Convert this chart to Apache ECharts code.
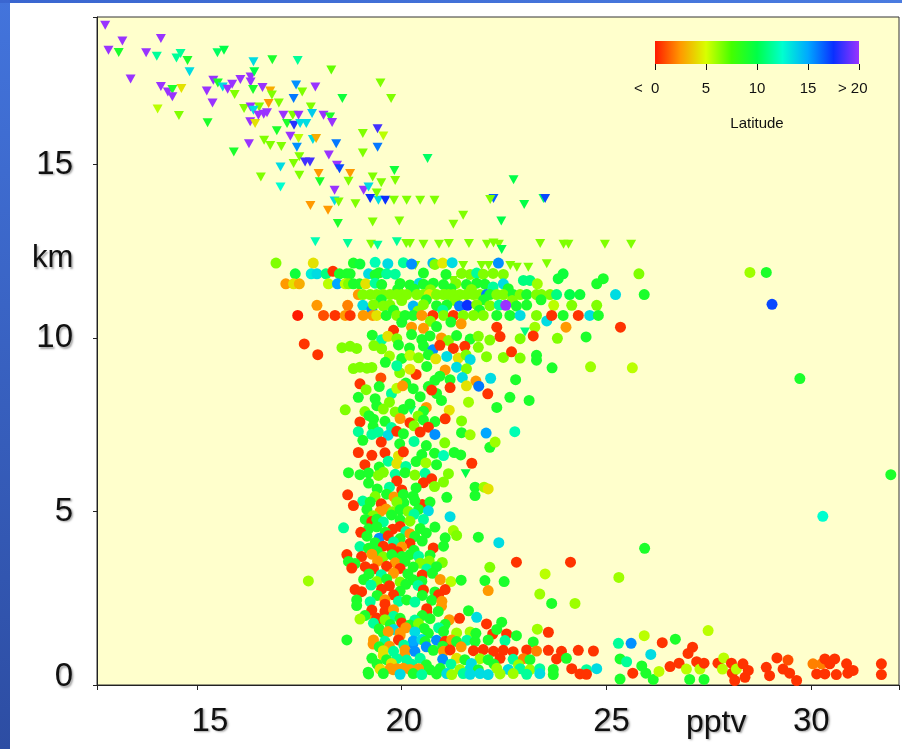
<!DOCTYPE html>
<html><head><meta charset="utf-8">
<script src="https://cdn.jsdelivr.net/npm/echarts@6/dist/echarts.min.js"></script>
<style>html,body{margin:0;padding:0;background:#fff;}#c{width:902px;height:749px;}</style>
</head><body><div id="c"></div>
<script>
// ---- data: [pptv, km, latitude] ----
const trianglePoints = [
[12.76,19.01,20],[12.84,18.29,20],[13.18,18.56,20],[13.09,18.23,9],[14.12,18.63,20],[13.76,18.22,20],[14.02,18.12,11.5],[14.5,18.07,11.5],[14.6,18.2,11.5],[14.77,18.0,9],[15.5,18.22,10.5],[15.66,18.29,10],[14.82,17.67,13.5],[13.38,17.46,20],[14.12,17.25,20],[14.29,17.09,20],[14.4,17.16,9],[14.4,16.95,20],[14.62,17.19,4.3],[14.04,16.6,5.5],[14.56,16.41,6.5],[15.26,16.2,9],[15.38,16.77,20],[15.24,17.12,20],[15.4,17.43,20],[15.51,17.35,9],[15.63,17.23,13.5],[15.75,17.17,20],[15.86,17.31,20],[15.92,17.02,6.5],[16.06,17.45,20],[16.31,17.52,20],[16.31,17.38,20],[16.38,17.96,13.5],[16.4,17.67,10],[16.37,17.16,9],[16.6,17.22,20],[16.84,18.02,9],[17.46,18.0,11.5],[18.28,17.72,7],[16.79,17.12,3],[16.83,17.0,6.5],[17.0,16.77,6.5],[16.75,16.76,2.5],[16.15,16.61,6.5],[16.31,16.66,20],[16.52,16.66,6.5],[16.38,16.56,13.5],[16.3,16.23,20],[16.42,16.18,4.3],[16.5,16.42,20],[16.63,16.45,20],[16.71,16.49,20],[16.27,15.6,20],[15.9,15.36,9],[16.64,15.7,6.5],[16.79,15.55,6.5],[16.95,15.97,9],[17.06,15.52,6.5],[16.56,14.64,6.5],[17.04,14.93,13.5],[17.04,14.35,12.5],[17.11,16.42,20],[17.2,16.18,9],[17.34,16.42,6.5],[17.37,16.13,18],[17.48,16.42,20],[17.52,16.18,13.5],[17.67,16.18,13.5],[17.36,16.9,16],[17.42,17.29,15.5],[17.57,17.09,6.5],[17.89,17.23,20],[17.78,16.66,6.5],[17.81,16.47,14],[18.09,16.42,20],[18.25,16.37,9],[18.3,16.21,20],[18.55,16.9,9.5],[17.28,15.81,20],[17.48,15.75,5.5],[17.44,15.5,15.5],[17.5,15.22,6.5],[17.36,15.03,6.5],[17.5,14.69,6.5],[17.64,15.07,18.5],[17.76,15.07,18.5],[17.83,15.72,13.5],[17.91,15.75,3],[18.22,15.27,20],[18.42,14.98,20],[18.48,14.88,17],[18.4,15.6,16],[17.97,14.74,2.5],[18.0,14.5,9],[18.36,14.26,20],[18.74,14.74,2.5],[18.7,14.52,6.5],[18.36,13.95,13.5],[18.46,13.92,6.5],[17.77,13.82,2.5],[18.2,13.68,2.5],[18.44,13.3,9],[18.87,13.87,6.5],[19.05,15.89,6.5],[19.05,15.33,6.5],[19.41,16.03,18.5],[19.55,15.82,5.5],[19.41,15.5,16],[19.48,17.35,6.5],[19.74,16.9,6.5],[19.82,14.83,9.5],[19.84,14.54,6.5],[19.29,14.64,6.5],[19.5,14.47,6.5],[19.07,14.26,20],[19.19,14.35,13.5],[19.23,14.02,17.5],[19.43,13.97,13.5],[19.6,13.97,17.5],[19.39,14.18,6.5],[19.81,13.97,6.5],[20.12,13.97,6.5],[19.29,13.34,6.5],[19.94,13.37,6.5],[20.63,15.17,10.5],[22.73,14.56,10],[22.24,14.02,16.5],[22.16,13.99,6.5],[22.99,13.85,10],[23.46,14.02,10.5],[23.5,14.02,17],[20.45,13.97,6.5],[20.8,13.97,6.5],[21.5,13.54,6.5],[21.26,13.28,6.5],[22.43,13.37,10],[17.89,12.77,12],[18.68,12.72,11.5],[19.25,12.7,6.5],[19.41,12.67,11.5],[19.88,12.77,11.5],[20.11,12.72,6.5],[20.2,12.72,6.5],[20.53,12.7,6.5],[20.91,12.7,6.5],[21.15,12.72,6.5],[21.64,12.72,6.5],[22.08,12.7,6.5],[22.24,12.74,6.5],[22.37,12.7,6.5],[22.44,12.55,10],[23.38,12.72,6.5],[23.95,12.7,6.5],[24.07,12.7,6.5],[24.96,12.7,6.5],[25.6,12.7,6.5],[21.5,12.09,6.5],[21.95,12.09,6.5],[22.12,12.09,6.5],[22.65,12.09,6.5],[22.81,12.04,6.5],[23.09,12.04,6.5],[23.54,12.14,6.5],[20.33,12.09,6.5],[21.25,11.66,6.5],[23.01,10.17,11],[20.23,7.91,11],[21.56,6.09,10]
];
const circlesUpper = [
[16.93,12.16,6.5],[17.84,12.16,4.3],[18.82,12.16,9],[18.98,12.13,9.5],[19.35,12.18,12],[19.66,12.14,13.5],[20.04,12.17,11.5],[20.24,12.13,15.5],[20.76,12.16,14.5],[20.81,12.12,6.5],[21.0,12.16,4.5],[21.23,12.17,13.5],[22.36,12.16,15.5],
[17.40,11.85,9.5],[17.79,11.85,13],[17.93,11.85,13.5],[18.15,11.85,11],[18.32,11.92,0.5],[18.48,11.85,9],[18.66,11.85,9],[18.74,11.85,9],[19.19,11.85,13.5],[19.35,11.82,9],[19.45,11.88,9],[19.63,11.85,11.5],[19.84,11.84,11.5],[20.53,11.87,9],[21.08,11.83,9],[21.46,11.86,6.5],[21.67,11.83,6.5],[21.83,11.87,11.5],[21.99,11.84,6.5],[22.23,11.86,6.5],[22.48,11.83,6.5],[23.94,11.85,9.5],[24.92,11.71,9],[25.79,11.85,6.5],
[17.17,11.56,2.5],[17.36,11.56,4.3],[17.50,11.56,3],[18.21,11.56,5.5],[18.43,11.56,15],[18.62,11.56,5.5],[18.70,11.56,6.5],[18.82,11.56,9],[18.97,11.56,9],[19.12,11.56,4.3],[19.35,11.58,11.5],[19.51,11.54,9],[19.96,11.57,9],[20.20,11.53,9],[20.43,11.58,13.5],[20.53,11.55,9],[20.77,11.58,9],[21.02,11.54,9],[21.32,11.57,6.5],[21.58,11.54,9],[21.83,11.58,9],[22.03,11.55,9],[22.23,11.47,11.5],[22.48,11.56,13.5],[22.97,11.66,11],[23.13,11.66,11],[23.31,11.56,6],[23.82,11.71,9.5],[24.76,11.56,9],
[19.9,11.4,9],[20.3,11.41,9],[20.7,11.39,6.5],[21.2,11.42,9],[21.7,11.4,6.5],[22.6,11.42,9],
[18.94,11.25,2.5],[19.05,11.25,6.5],[19.23,11.25,6.5],[19.39,11.25,6.5],[19.55,11.25,6.5],[19.71,11.25,6.5],[19.88,11.25,6.5],[20.0,11.25,6.5],[20.12,11.25,6.5],[20.37,11.25,6.5],[20.53,11.25,6.5],[20.67,11.25,4.5],[20.85,11.25,6.5],[21.02,11.25,6.5],[21.14,11.25,6.5],[21.26,11.25,6.5],[21.42,11.25,6.5],[21.58,11.25,6.5],[21.75,11.25,6.5],[21.91,11.25,6.5],[22.07,11.25,16],[22.15,11.25,9],[22.32,11.25,6.5],[22.48,11.25,6.5],[22.72,11.25,9],[22.89,11.25,6.5],[23.05,11.25,9],[23.29,11.25,6.5],[23.41,11.25,6.5],[23.62,11.25,6.5],[23.78,11.25,11],[24.1,11.25,10],[24.35,11.25,9.5],[25.22,11.25,13.5],[25.92,11.25,9],
[19.5,11.1,9],[20.0,11.08,6.5],[20.6,11.1,9],[21.3,11.08,6.5],[22.0,11.1,9],[22.7,11.08,6.5],[23.4,11.1,9],
[17.93,10.94,2.5],[18.68,10.94,2],[19.05,10.94,13.5],[19.27,10.82,15.5],[19.31,10.96,6.5],[19.55,10.92,6.5],[19.71,10.95,6.5],[20.28,10.92,14.5],[20.53,10.96,6.5],[20.85,10.93,9],[21.10,10.95,9],[21.41,10.92,16],[21.60,10.94,17.5],[21.83,10.96,6.5],[22.15,10.93,6.5],[22.38,10.95,11.5],[22.54,10.94,20],[22.80,10.92,9],[23.05,10.95,9],[23.71,10.94,5.5],[24.15,10.94,6.5],[24.76,10.94,6.5],
[19.8,10.8,9],[20.4,10.78,6.5],[21.0,10.8,11.5],[21.9,10.8,9],
[17.46,10.65,0],[18.09,10.65,1],[18.37,10.65,0.5],[18.62,10.65,2.5],[18.74,10.65,0.5],[19.06,10.65,2.5],[19.29,10.65,2.5],[19.39,10.65,4.3],[19.62,10.65,9],[19.88,10.65,6.5],[20.08,10.65,9],[20.28,10.65,9],[20.49,10.65,2.5],[20.76,10.65,0.5],[21.02,10.65,6.5],[21.26,10.65,0.5],[21.50,10.65,6.5],[21.75,10.65,6.5],[21.99,10.65,6.5],[22.32,10.65,9],[22.64,10.65,9],[22.89,10.65,13.5],[23.29,10.65,6.5],[23.54,10.49,13.5],[23.66,10.65,0.5],[23.94,10.65,9],[24.31,10.65,0.5],[24.59,10.65,13.5],[24.80,10.65,9],
[20.0,10.45,9],[20.7,10.48,6.5],[21.2,10.46,9],
[19.80,10.22,0.5],[20.24,10.31,2.5],[20.53,10.28,2.5],[20.85,10.33,9],[21.45,10.41,2.5],[22.32,10.31,0.5],[23.25,10.31,6],[24.01,10.31,2.5],[25.34,10.31,0.5]
];
const circlesColumn = [
[19.28,10.08,9],[19.51,9.95,11.5],[19.66,10.05,4.3],[19.88,9.98,6.5],[20.24,10.1,9],[20.49,9.96,9],[20.69,10.06,9],[20.97,10.0,2.5],[21.14,9.93,6.5],[21.34,10.07,9],[21.67,9.97,9],[21.87,10.05,6.5],[22.15,9.94,6.5],[22.40,10.04,0.5],[22.89,9.98,6.5],[23.21,10.06,0.5],[23.80,9.99,6.5],[24.50,10.03,9],
[17.62,9.83,0.5],[17.95,9.52,0.5],[18.54,9.72,6.5],[18.74,9.76,6.5],[18.90,9.7,6.5],[19.32,9.78,6.5],[19.51,9.69,6.5],[19.92,9.8,9],[20.19,9.71,9],[20.53,9.77,9],[20.76,9.66,15.5],[20.93,9.79,0.5],[21.26,9.7,0.5],[21.54,9.76,0.5],[21.87,9.73,6.5],
[19.70,9.48,6],[20.0,9.41,9],[20.20,9.5,5.5],[20.41,9.43,6.5],[20.65,9.52,9],[20.83,9.4,4.3],[21.10,9.47,13.5],[21.38,9.42,4.3],[21.57,9.51,6.5],[21.67,9.38,13.5],[22.07,9.46,6.5],[22.48,9.44,6.5],[22.68,9.6,0.5],[22.89,9.42,6.5],[23.29,9.5,9],[23.29,9.36,9],
[19.6,9.3,9],[19.95,9.0,6.5],[20.35,8.95,0.5],
[18.82,9.12,6.5],[18.98,9.16,6.5],[19.15,9.13,6.5],[19.27,9.15,6.5],[19.88,9.2,11.5],[20.20,9.1,4.3],[20.61,9.18,9],[21.06,9.08,2.5],[21.34,9.16,13.5],[21.58,9.11,6.5],[23.67,9.14,9],[24.61,9.17,6],[25.63,9.14,5.5],
[19.49,8.85,1],[20.81,8.78,9],[20.93,8.9,9],[21.18,8.8,9],[21.48,8.86,13.5],[21.81,8.76,2.5],[22.17,8.84,13.5],[22.78,8.8,9],
[20.1,8.7,9],[19.75,8.4,11.5],[20.85,8.4,9],[19.45,8.6,9],
[18.98,8.68,0.5],[19.13,8.51,6.5],[19.88,8.55,5.5],[20.02,8.62,2.5],[20.28,8.54,9],[20.65,8.6,9],[20.73,8.5,0.5],[21.18,8.57,0.5],[21.58,8.62,4.3],[21.88,8.61,16],[22.1,8.39,0.5],
[18.94,8.29,9],[19.35,8.25,9],[19.39,8.05,9],[20.45,8.31,9],[20.97,8.2,9],[21.63,8.15,6],[22.32,8.0,9],[22.64,8.29,9],[23.11,8.2,9],
[20.2,8.1,9],[20.6,8.0,2.5],[19.7,8.15,6.5],
[18.62,7.93,6.5],[19.1,7.88,6.5],[19.55,7.95,6.5],[19.84,7.87,6.5],[20.04,7.94,9],[20.53,7.89,9],[21.16,7.92,4.3],
[20.4,7.75,6.5],[19.2,7.76,9],
[18.98,7.58,0.5],[19.31,7.66,9],[19.59,7.6,9],[19.96,7.68,2.5],[20.20,7.56,0.5],[20.53,7.64,9],[20.81,7.59,9],[21.06,7.67,0.5],[21.46,7.61,6.5],
[19.3,7.45,9],[19.75,7.42,11.5],[20.3,7.47,6.5],[20.65,7.43,0.5],
[18.94,7.3,11.5],[19.27,7.22,11.5],[19.43,7.28,11.5],[19.67,7.2,13.5],[19.88,7.31,0.5],[20.04,7.24,9],[20.45,7.29,0.5],[20.81,7.22,15.5],[21.46,7.27,9],[21.67,7.21,6],[22.06,7.26,15],[22.76,7.3,12],[22.15,6.85,9],[22.28,7.0,6],
[19.05,7.05,9],[19.5,7.0,0.5],[19.95,6.95,9],[20.3,7.02,11.5],[20.6,6.9,9],[21.05,6.98,6.5],
[18.94,6.7,0.5],[19.27,6.62,0.5],[19.59,6.69,0.5],[19.92,6.6,4.3],[20.04,6.72,0.5],[20.49,6.64,9],[20.80,6.68,9],[21.02,6.61,12],[21.28,6.7,9],[21.44,6.63,9],[21.71,6.39,0.5],
[19.67,6.45,11.5],[19.88,6.38,4.3],[20.35,6.44,9],[20.59,6.4,6],
[19.1,6.35,0.5],[19.45,6.28,9],[20.1,6.3,11.5],[20.85,6.35,9],
[18.70,6.12,9],[18.98,6.06,9],[19.19,6.11,9],[19.43,6.04,6.5],[19.55,6.13,6.5],[19.84,6.07,11.5],[20.08,6.12,9],[20.32,6.05,6.5],[20.57,6.1,11.5],[20.73,5.94,0.5],[21.14,6.09,6.5],[21.02,5.85,6.5],
[19.19,5.82,9],[19.88,5.88,0.5],[20.53,5.83,0.5],[21.79,5.7,9],[22.01,5.7,6],[22.11,5.65,4.3],
[19.4,5.65,9],[19.7,5.7,11.5],[20.0,5.62,0.5],[20.35,5.68,9],[20.8,5.72,6.5],
[18.68,5.48,0.5],[19.35,5.43,6.5],[19.63,5.5,9],[19.81,5.42,2.5],[20.04,5.49,9],[20.28,5.44,9],[21.10,5.41,9],[21.79,5.46,9],
[19.05,5.3,11.5],[19.5,5.22,0.5],[20.05,5.25,9],[20.5,5.2,0.5],
[18.82,5.17,0.5],[19.23,5.27,9],[19.88,5.27,6.5],[20.32,5.31,9],[20.69,5.27,9],
[19.15,5.06,9],[19.47,5.0,2.5],[19.62,5.07,2.5],[19.78,4.99,6.5],[19.96,5.05,9],[20.16,5.0,6.5],[20.41,5.06,9],[20.65,5.02,13.5],[21.18,4.85,13.5],
[19.3,4.88,6.5],[19.75,4.9,9],[20.3,4.92,11.5],
[19.11,4.77,9],[19.27,4.71,0.5],[19.39,4.78,9],[19.55,4.7,11.5],[19.96,4.76,9],[20.2,4.72,6.5],[20.53,4.77,11.5],
[18.58,4.53,11.5],[19.19,4.5,9],[19.39,4.56,9],[19.78,4.49,0.5],[19.96,4.57,0.5],[20.45,4.51,9],[20.81,4.55,9],[21.26,4.45,6],[21.34,4.31,6.5],
[19.0,4.4,0.5],[19.6,4.4,9],[20.1,4.42,11.5],[20.6,4.38,9],
[19.15,4.29,9],[19.45,4.23,15.5],[19.67,4.3,0.5],[19.96,4.22,9],[20.2,4.36,2.5],[20.32,4.28,9],[21.06,4.24,9],[21.87,4.26,9],[22.37,4.1,13.5],
[19.35,4.1,9],[19.8,4.12,11.5],[20.2,4.08,0.5],[20.5,4.15,9],
[18.98,3.99,11.5],[19.19,3.94,9],[19.55,4.0,0.5],[19.76,3.93,0.5],[20.0,3.98,2.5],[20.77,3.95,0.5],[21.02,4.0,9],
[19.4,3.85,9],[19.9,3.84,0.5],[20.3,3.88,9],
[18.66,3.76,0.5],[19.02,3.7,0.5],[19.27,3.77,2.5],[19.55,3.69,6.5],[19.76,3.75,9],[20.0,3.7,9],[20.2,3.76,9],[20.41,3.71,11.5],[20.69,3.74,9],
[18.70,3.56,9],[18.86,3.5,9],[19.41,3.57,2.5],[19.84,3.52,2.5],[20.08,3.56,9],[20.45,3.51,6.5],[20.67,3.57,6.5],[20.99,3.53,6.5],[22.80,3.54,0.5],[24.12,3.54,0.5],
[18.78,3.37,0.5],[19.11,3.41,0.5],[19.31,3.35,0.5],[19.63,3.42,0.5],[19.96,3.36,0.5],[20.28,3.4,9],[20.61,3.34,11.5],[20.85,3.41,9],[22.15,3.39,6.5],
[19.2,3.2,9],[19.5,3.18,11.5],[19.8,3.22,2.5],[20.15,3.2,9],[20.5,3.17,0.5],[20.75,3.22,9],
[17.72,3.0,6],[19.07,3.04,9],[19.39,2.98,6.5],[19.63,3.05,9],[19.96,2.97,6.5],[20.28,3.03,9],[20.49,2.99,9],[20.94,3.04,2.5],[21.2,2.98,5.5],[21.45,3.02,9],[22.03,3.01,9],[22.5,2.98,9],[23.5,3.2,5.5],
[19.25,2.88,11.5],[19.7,2.86,0.5],[20.1,2.9,9],[20.4,2.87,11.5],
[18.86,2.75,0.5],[19.02,2.69,0.5],[19.51,2.76,0.5],[19.96,2.7,9],[20.53,2.74,0.5],[20.81,2.68,9],[21.06,2.75,0.5],[22.11,2.72,2.5],[23.37,2.62,6],
[19.4,2.58,9],[19.8,2.6,0.5],[20.5,2.58,9],[20.9,2.6,0.5]
];
const circlesBottom = [
[18.90,2.45,9],[19.23,2.4,11.5],[19.59,2.46,2.5],[19.92,2.41,11.5],[20.12,2.45,9],[20.32,2.39,11.5],[20.73,2.44,9],[20.98,2.41,2.5],[23.66,2.35,9],[24.23,2.35,6],
[18.9,2.29,9],[19.22,2.05,2.5],[19.39,1.86,0.5],[19.59,2.33,0.5],[20.61,2.1,0.5],[20.97,2.27,2.5],
[19.27,2.16,0.5],[19.59,2.12,0.5],[19.8,2.17,2.5],[20.61,2.2,0.5],[20.89,2.12,9],[21.63,2.14,9],[21.83,1.95,13.5],
[19.1,2.0,9],[19.8,1.98,11.5],[20.5,2.0,9],
[18.98,1.9,6],[19.39,1.93,0.5],[19.59,1.88,6.5],[19.96,1.92,9],[20.32,1.87,11.5],[20.69,1.91,9],[21.16,1.88,2.5],[21.41,1.92,0.5],
[19.31,1.78,11.5],[19.72,1.74,9],[20.0,1.79,0.5],[20.2,1.73,9],[20.41,1.77,6.5],[21.06,1.75,9],
[22.07,1.76,0.5],[22.22,1.47,0.5],[22.32,1.6,9],[22.44,1.81,9],[22.56,1.47,0.5],[22.8,1.42,9],[23.31,1.61,6],[23.58,1.52,0.5],
[19.45,1.62,9],[19.8,1.6,13.5],[20.1,1.65,2.5],[20.55,1.63,9],[20.9,1.65,11.5],
[18.66,1.3,9],[19.55,1.5,9],[19.67,1.54,2.5],[19.96,1.5,2.5],[20.32,1.53,13.5],[20.65,1.49,9],[21.02,1.54,9],[21.34,1.5,6],[21.67,1.53,6],[21.81,1.49,9],
[19.3,1.18,2.5],[19.96,1.43,2.5],[20.28,1.2,15.5],[19.55,0.85,4.3],[20.08,0.9,2.5],
[19.31,1.3,2.5],[19.59,1.26,11.5],[19.92,1.3,0.5],[20.28,1.27,15],[20.49,1.31,13.5],[20.57,1.25,9],[20.85,1.29,15.5],[21.06,1.26,0.5],[21.22,1.3,2.5],[21.34,1.25,9],[21.59,1.29,11.5],[21.79,1.26,9],[22.11,1.3,9],[22.52,1.28,11.5],[23.21,1.24,9],
[19.45,1.1,9],[19.7,1.12,2.5],[20.05,1.15,11.5],[20.6,1.1,15.5],[21.0,1.12,9],[21.45,1.1,2.5],
[19.55,0.99,4.3],[19.8,0.97,11.5],[20.08,1.01,2.5],[20.32,0.97,15.5],[20.77,1.0,9],[21.02,0.97,2.5],[21.18,1.01,0.5],[21.75,0.99,0.5],[21.99,1.02,0.5],[22.24,0.97,0.5],[22.48,1.0,0.5],[22.72,0.96,0.5],[23.05,1.01,0.5],[23.29,0.98,2],[23.58,1.0,0.5],[23.9,0.97,0.5],[24.31,1.0,0.5],[24.68,0.98,0.5],
[19.27,0.77,9],[19.63,0.73,9],[19.88,0.76,11.5],[20.12,0.72,11.5],[20.45,0.77,11.5],[21.0,0.74,15.5],[21.34,0.77,4.3],[21.54,0.73,9],[21.91,0.76,6],[22.11,0.73,9],[22.4,0.77,0.5],[22.72,0.74,11.5],[22.97,0.76,2],[23.13,0.73,9],[23.78,0.75,0.5],[24.02,0.77,9],
[19.4,0.6,9],[19.75,0.62,4.3],[20.25,0.6,11.5],[20.6,0.58,9],[21.2,0.6,11.5],[21.7,0.62,13.5],[22.25,0.6,9],[22.85,0.58,6],
[19.47,0.46,4.3],[19.72,0.48,2.5],[19.79,0.44,2.5],[19.88,0.47,2.5],[19.99,0.45,2.5],[20.04,0.48,2.5],[20.2,0.45,2.5],[20.41,0.47,2.5],[20.69,0.44,9],[20.94,0.48,9],[21.42,0.45,6],[21.67,0.47,13.5],[21.87,0.44,9],[22.32,0.48,6],[22.6,0.45,13.5],[22.89,0.47,11.5],[23.13,0.44,6],[23.37,0.47,11.5],[23.7,0.45,9],[24.15,0.47,0.5],[24.51,0.44,11.5],[24.76,0.47,13.5],
[19.18,0.37,9],[19.19,0.32,9],[19.55,0.33,9],[19.96,0.31,13.5],[20.28,0.33,9],[20.49,0.3,11.5],[20.85,0.32,9],[21.1,0.33,13.5],[21.22,0.3,6],[21.5,0.33,11.5],[21.67,0.31,13.5],[21.91,0.33,13.5],[22.11,0.3,13.5],[22.4,0.32,6],[22.72,0.33,6],[23.05,0.31,11.5],[23.37,0.33,13.5],[23.7,0.3,9],[24.35,0.32,0.5],[24.51,0.31,0.5],
[25.29,1.2,11.5],[25.6,1.2,15.5],[25.92,1.42,5.5],[26.08,0.88,13.5],[26.36,1.22,0.5],[26.68,1.32,9],[27.48,1.57,5.5],[25.33,0.75,9],[25.49,0.67,11.5],[25.33,0.17,9],[25.64,0.34,0.5],[25.86,0.55,9],[25.96,0.34,9],[26.14,0.16,9],[26.28,0.39,5.5],[26.55,0.53,0.5],[26.77,0.63,0.5],[26.95,0.46,5.5],[27.03,0.16,9],[26.99,0.91,0.5],[27.1,1.09,0.5],[27.2,0.67,0.5],[27.28,0.46,5.5],[27.38,0.63,0.5],[27.38,0.16,9],[27.72,0.63,0.5],[27.86,0.78,5.5],[27.83,0.46,5.5],[28.05,0.63,0.5],[28.07,0.34,0.5],[28.13,0.13,0.5],[28.17,0.46,5.5],[28.33,0.61,0.5],[28.38,0.22,0.5],[28.46,0.42,0.5],[28.9,0.51,0.5],[28.98,0.27,0.5],[29.16,0.78,0.5],[29.31,0.46,0.5],[29.43,0.72,1],[29.47,0.34,0.5],[29.64,0.13,0.5],[30.04,0.61,2],[30.25,0.61,2],[30.13,0.32,0.5],[30.33,0.75,0.5],[30.45,0.61,0.5],[30.57,0.75,0.5],[30.33,0.32,0.5],[30.61,0.3,0.5],[30.86,0.61,0.5],[30.89,0.34,0.5],[31.02,0.42,0.5],[31.71,0.61,0.5],[31.71,0.3,0.5]
];
const circlesOutliers = [
[28.5,11.89,6],[28.9,11.89,9],[29.04,10.97,17],[29.72,8.83,9],[31.94,6.06,9],[30.28,4.86,12.5],[25.93,3.94,9],[25.3,3.1,6]
];
const xTickValues = [15, 20, 25, 30];
const yTickValues = [0, 5, 10, 15];
const latitudeTicks = [0, 5, 10, 15, 20];
const latitudeLabels = ['<  0    ', '5', '10', '15', '> 20   '];
const latitudeColors = ['#FF1A00','#FF9900','#D8FF00','#44FF00','#00FF48','#00FFCF','#00A8FF','#0A30FF','#9933FF'];

const circles = circlesUpper.concat(circlesColumn, circlesBottom, circlesOutliers);
const FONT = 'Liberation Sans';
const shadow = {textShadowColor:'rgba(0,0,0,0.35)', textShadowBlur:2, textShadowOffsetX:1.5, textShadowOffsetY:1.5};
const big = Object.assign({fontFamily:FONT, fontSize:33, color:'#111'}, shadow);

const chart = echarts.init(document.getElementById('c'), null, {renderer:'canvas'});
const isTick = (v, list) => list.some(t => Math.abs(t - v) < 1e-6);
chart.setOption({
  animation: false,
  backgroundColor: '#ffffff',
  graphic: [
    {type:'rect', shape:{x:0,y:0,width:10,height:749}, z:-5, style:{fill:new echarts.graphic.LinearGradient(0,0,0,1,[{offset:0,color:'#4374DC'},{offset:1,color:'#2D4DA3'}])}},
    {type:'rect', shape:{x:0,y:0,width:902,height:3}, z:-5, style:{fill:new echarts.graphic.LinearGradient(0,0,1,0,[{offset:0,color:'#3A66D0'},{offset:1,color:'#4A7BE0'}])}},
    {type:'text', left:32, top:243, style:Object.assign({text:'km', font:'31px "Liberation Sans"', fill:'#111'}, shadow)},
    {type:'text', left:686, top:707, style:Object.assign({text:'pptv', font:'32px "Liberation Sans"', fill:'#111'}, shadow)}
  ],
  grid: [
    {left:97, top:17, right:3, bottom:64, show:true, backgroundColor:'#FFFFCC', borderColor:'#333', borderWidth:1, containLabel:false, outerBoundsMode:'none'},
    {left:655, top:41, width:204, height:23, show:false, containLabel:false, outerBoundsMode:'none'}
  ],
  xAxis: [
    {type:'value', gridIndex:0, min:12.56, max:32.14, splitNumber:4,
     axisLine:{show:true, lineStyle:{color:'#222'}}, axisTick:{show:true, length:5, lineStyle:{color:'#222'}},
     splitLine:{show:false},
     axisLabel:{margin:20, fontFamily:FONT, fontSize:33, color:'#111',
       formatter: v => isTick(v, xTickValues) ? '{t' + Math.round(v) + '|' + Math.round(v) + '}' : '',
       rich:{
         t15:Object.assign({padding:[0,0,0,26]}, big),
         t20:Object.assign({padding:[0,0,0,4]}, big),
         t25:Object.assign({padding:[0,0,0,10]}, big),
         t30:Object.assign({}, big)
       }}},
    {type:'value', gridIndex:1, min:0, max:20, interval:5,
     axisLine:{show:false}, axisTick:{show:true, length:6, lineStyle:{color:'#111', width:1}},
     splitLine:{show:false},
     axisLabel:{margin:17, fontFamily:FONT, fontSize:15, color:'#111',
       formatter: v => latitudeLabels[latitudeTicks.indexOf(Math.round(v))] || ''},
     name:'Latitude', nameLocation:'middle', nameGap:52,
     nameTextStyle:{fontFamily:FONT, fontSize:15, color:'#111'}}
  ],
  yAxis: [
    {type:'value', gridIndex:0, min:0, max:19.25, interval:5,
     axisLine:{show:true, lineStyle:{color:'#222'}}, axisTick:{show:true, length:4, lineStyle:{color:'#222'}},
     splitLine:{show:false},
     axisLabel:{margin:24, fontFamily:FONT, fontSize:33, color:'#111',
       formatter: v => !isTick(v, yTickValues) ? '' : (v === 0 ? '{z|0}' : '{n|' + v + '}'),
       rich:{ z:Object.assign({padding:[0,0,16,0]}, big), n:Object.assign({}, big) }}},
    {type:'value', gridIndex:1, min:0, max:1, show:false}
  ],
  visualMap: {
    type:'continuous', show:false, min:0, max:20, dimension:2, seriesIndex:[0,1],
    inRange:{color: latitudeColors}
  },
  series: [
    {type:'scatter', name:'triangles', xAxisIndex:0, yAxisIndex:0, data:trianglePoints,
     symbol:'triangle', symbolSize:[10,9], symbolRotate:180, silent:true,
     itemStyle:{opacity:1}},
    {type:'scatter', name:'circles', xAxisIndex:0, yAxisIndex:0, data:circles,
     symbol:'circle', symbolSize:11, silent:true, itemStyle:{opacity:1}},
    {type:'custom', name:'colorbar', xAxisIndex:1, yAxisIndex:1, data:[[0,20]], silent:true,
     renderItem: (params, api) => {
       const p0 = api.coord([api.value(0), 1]);
       const p1 = api.coord([api.value(1), 0]);
       return {type:'rect', shape:{x:p0[0], y:p0[1], width:p1[0]-p0[0], height:p1[1]-p0[1]},
         style:{fill:new echarts.graphic.LinearGradient(0,0,1,0,
           latitudeColors.map((c,i) => ({offset:i/(latitudeColors.length-1), color:c})))}};
     }}
  ]
});
</script>
</body></html>
